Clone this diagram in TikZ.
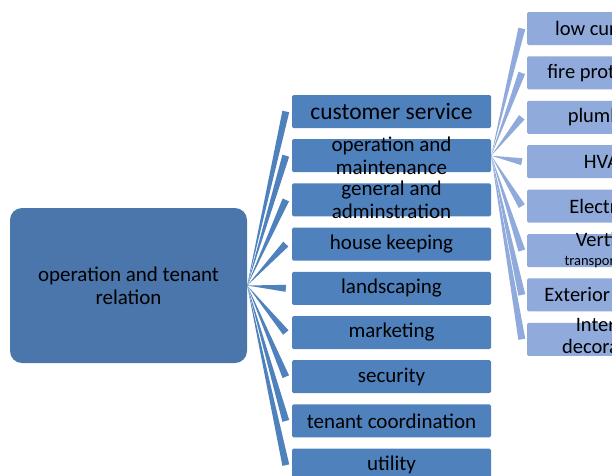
\documentclass[tikz,border=0pt]{standalone}
\usepackage{fontspec}
\setmainfont{Carlito}
\usetikzlibrary{calc}
\definecolor{rootblue}{HTML}{4A76AB}
\definecolor{midblue}{HTML}{4F81BD}
\definecolor{lightblue}{HTML}{8FAADB}
\begin{document}
\begin{tikzpicture}[x=1pt,y=-1pt,
  rootbox/.style={fill=rootblue,rounded corners=12pt,minimum width=237pt,minimum height=155pt,inner sep=0pt},
  midbox/.style={fill=midblue,rounded corners=1.5pt,minimum width=199pt,minimum height=33pt,inner sep=0pt},
  leafbox/.style={fill=lightblue,rounded corners=1.5pt,minimum width=160pt,minimum height=33pt,inner sep=0pt},
  txt/.style={align=center,inner sep=0pt,text=black,font=\fontsize{21}{23}\selectfont},
  leaftxt/.style={align=center,inner sep=0pt,text=black,font=\fontsize{20.5}{22}\selectfont},
  midwedge/.style={fill=midblue},
  leafwedge/.style={fill=lightblue}]
\useasboundingbox (0,0) rectangle (612,475);
\clip (0,0) rectangle (612,475);
% root
\node[rootbox] (root) at (128.5,285.5) {};
\node[txt] (roott) at (root.center) {operation and tenant\\relation};
% level 2
\node[midbox] (cs) at (391.5,111.5) {};
\node[midbox] (om) at (391.5,155.7) {};
\node[midbox] (ga) at (391.5,199.9) {};
\node[midbox] (hk) at (391.5,244.1) {};
\node[midbox] (ls) at (391.5,288.3) {};
\node[midbox] (mk) at (391.5,332.5) {};
\node[midbox] (se) at (391.5,376.7) {};
\node[midbox] (tc) at (391.5,420.9) {};
\node[midbox] (ut) at (391.5,465.1) {};
\node[txt,font=\fontsize{23.5}{25}\selectfont] (cst) at (cs.center) {customer service};
\node[txt] (omt) at (om.center) {operation and\\maintenance};
\node[txt] (gat) at (ga.center) {general and\\adminstration};
\node[txt] (hkt) at (hk.center) {house keeping};
\node[txt] (lst) at (ls.center) {landscaping};
\node[txt] (mkt) at (mk.center) {marketing};
\node[txt] (set) at (se.center) {security};
\node[txt] (tct) at (tc.center) {tenant coordination};
\node[txt] (utt) at (ut.center) {utility};
% level 3
\node[leafbox] (lc) at (607,28.5) {};
\node[leafbox] (fp) at (607,72.9) {};
\node[leafbox] (pl) at (607,117.3) {};
\node[leafbox] (hv) at (607,161.7) {};
\node[leafbox] (el) at (607,206.1) {};
\node[leafbox] (vt) at (607,250.5) {};
\node[leafbox] (ex) at (607,294.9) {};
\node[leafbox] (in) at (607,339.3) {};
\node[leaftxt] (lct) at ([xshift=-4pt]lc.center) {low current};
\node[leaftxt] (fpt) at (fp.center) {fire protection};
\node[leaftxt] (plt) at (pl.center) {plumbing};
\node[leaftxt] (hvt) at (hv.center) {HVAC};
\node[leaftxt] (elt) at (el.center) {Electrical};
\node[leaftxt] (vtt) at (vt.center) {Vertical\\[-3pt]{\fontsize{14.5}{16}\selectfont transportation}};
\node[leaftxt] (ext) at (ex.center) {Exterior facade};
\node[leaftxt] (int) at ([yshift=4pt]in.center) {Interior\\decoration};
% wedges level 1
\foreach \c in {cs,om,ga,hk,ls,mk,se,tc,ut}{
  \coordinate (e) at ($(\c.west)+(-6,0)$);
  \fill[midwedge] (root.east) -- ($(e)!3.5pt!90:(root.east)$) -- ($(e)!3.5pt!-90:(root.east)$) -- cycle;
}
% wedges level 2
\foreach \c in {lc,fp,pl,hv,el,vt,ex,in}{
  \coordinate (e) at ($(\c.west)+(-5,0)$);
  \fill[leafwedge] (om.east) -- ($(e)!3.5pt!90:(om.east)$) -- ($(e)!3.5pt!-90:(om.east)$) -- cycle;
}
\end{tikzpicture}
\end{document}
